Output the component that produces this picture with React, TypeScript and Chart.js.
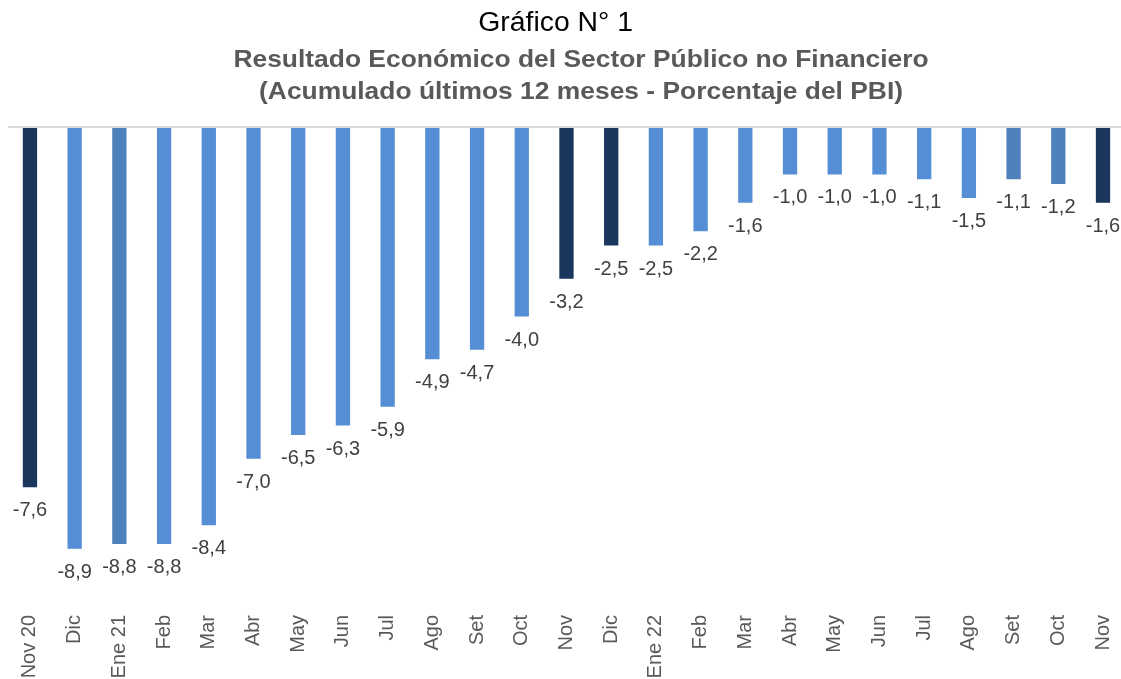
import React, { useEffect, useRef } from "react";
import { Chart, registerables } from "chart.js";

Chart.register(...registerables);

const categories: string[] = [
  "Nov 20", "Dic", "Ene 21", "Feb", "Mar", "Abr", "May", "Jun", "Jul", "Ago", "Set", "Oct", "Nov",
  "Dic", "Ene 22", "Feb", "Mar", "Abr", "May", "Jun", "Jul", "Ago", "Set", "Oct", "Nov",
];

const values: number[] = [
  -7.6, -8.9, -8.8, -8.8, -8.4, -7.0, -6.5, -6.3, -5.9, -4.9, -4.7, -4.0, -3.2,
  -2.5, -2.5, -2.2, -1.6, -1.0, -1.0, -1.0, -1.1, -1.5, -1.1, -1.2, -1.6,
];

const DARK = "#1A365D";
const LIGHT = "#558ED5";
const MID = "#4F81BD";
const barColors: string[] = [
  DARK, LIGHT, MID, LIGHT, LIGHT, LIGHT, LIGHT, LIGHT, LIGHT, LIGHT, LIGHT, LIGHT, DARK,
  DARK, LIGHT, LIGHT, LIGHT, LIGHT, LIGHT, LIGHT, LIGHT, LIGHT, MID, MID, DARK,
];

const FONT = "'Liberation Sans', Arial, sans-serif";

const valueLabels = {
  id: "valueLabels",
  afterDatasetsDraw(chart: any) {
    const ctx = chart.ctx;
    const meta = chart.getDatasetMeta(0);
    ctx.save();
    ctx.font = `20px ${FONT}`;
    ctx.fillStyle = "#404040";
    ctx.textAlign = "center";
    ctx.textBaseline = "alphabetic";
    meta.data.forEach((el: any, i: number) => {
      const v = values[i];
      ctx.fillText(v.toFixed(1).replace(".", ","), el.x, el.y + 29);
    });
    ctx.restore();
  },
};

export default function App() {
  const canvasRef = useRef<HTMLCanvasElement | null>(null);

  useEffect(() => {
    if (!canvasRef.current) return;
    const chart = new Chart(canvasRef.current, {
      type: "bar",
      data: {
        labels: categories,
        datasets: [
          {
            data: values,
            backgroundColor: barColors,
            borderWidth: 0,
            barPercentage: 0.32,
            categoryPercentage: 1,
          },
        ],
      },
      options: {
        animation: false,
        responsive: true,
        maintainAspectRatio: false,
        layout: { padding: { left: 7.6, right: 0, top: 127, bottom: 0 } },
        plugins: {
          legend: { display: false },
          tooltip: { enabled: false },
          title: { display: false },
        },
        scales: {
          x: {
            grid: { display: false, drawTicks: false },
            border: { display: false },
            afterFit: (axis: any) => {
              axis.height = 78;
            },
            ticks: {
              autoSkip: false,
              minRotation: 90,
              maxRotation: 90,
              padding: 14,
              color: "#595959",
              font: { family: FONT, size: 20 },
            },
          },
          y: {
            min: -10,
            max: 0,
            ticks: { display: false },
            border: { display: false },
            grid: {
              drawTicks: false,
              lineWidth: 2,
              color: (ctx: any) => (ctx.tick && ctx.tick.value === 0 ? "#D9D9D9" : "rgba(0,0,0,0)"),
            },
          },
        },
      },
      plugins: [valueLabels],
    });
    return () => chart.destroy();
  }, []);

  return (
    <div
      style={{
        position: "fixed",
        left: 0,
        top: 0,
        width: 1121,
        height: 679,
        overflow: "hidden",
        background: "#fff",
        fontFamily: FONT,
      }}
    >
      <div style={{ position: "absolute", left: 0, top: 0, width: 1141, height: 679 }}>
        <canvas ref={canvasRef} />
      </div>
      <div
        style={{
          position: "absolute",
          left: 56,
          width: 1000,
          top: 6,
          textAlign: "center",
          fontSize: 27,
          lineHeight: "32px",
          color: "#000",
          whiteSpace: "nowrap",
        }}
      >
        <span style={{ display: "inline-block", transform: "scaleX(1.05)" }}>Gráfico N° 1</span>
      </div>
      <div
        style={{
          position: "absolute",
          left: 81,
          width: 1000,
          top: 43,
          textAlign: "center",
          fontSize: 24,
          fontWeight: "bold",
          lineHeight: "32px",
          color: "#595959",
          whiteSpace: "nowrap",
        }}
      >
        <span style={{ display: "inline-block", transform: "scaleX(1.1)" }}>
          Resultado Económico del Sector Público no Financiero
          <br />
          (Acumulado últimos 12 meses - Porcentaje del PBI)
        </span>
      </div>
    </div>
  );
}
